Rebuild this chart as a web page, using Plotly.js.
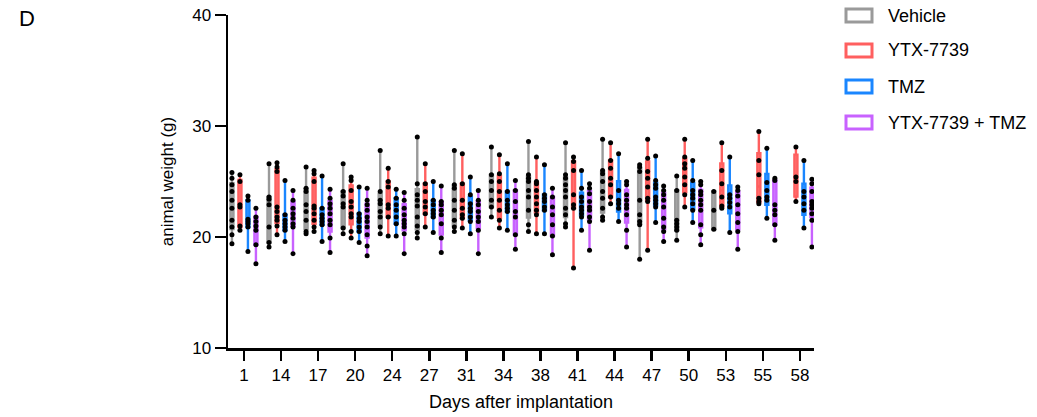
<!DOCTYPE html>
<html><head><meta charset="utf-8">
<script src="https://cdn.plot.ly/plotly-3.0.1.min.js"></script>
<style>html,body{margin:0;padding:0;background:#fff}#chart{width:1037px;height:417px}</style>
</head><body><div id="chart"></div>
<script>
const days = ['1','14','17','20','24','27','31','34','38','41','44','47','50','53','55','58'];

const vehicle = [
  [25.8, 25.3, 24.7, 24.1, 23.3, 22.6, 21.5, 20.9, 20.2, 19.4],
  [26.6, 23.6, 23.4, 22.9, 20.9, 19.5, 19.1],
  [26.3, 24.4, 24.1, 22.9, 22.3, 21.5, 20.5, 20.3],
  [26.6, 24.1, 23.7, 23.0, 22.7, 20.8, 20.3],
  [27.8, 24.1, 23.3, 23.0, 22.3, 21.8, 20.9, 20.3],
  [29.0, 24.8, 23.8, 23.3, 22.8, 21.8, 21.0, 20.4, 19.9],
  [27.8, 24.7, 24.4, 23.3, 22.4, 21.5, 20.9, 20.5],
  [28.1, 25.6, 25.0, 24.2, 23.3, 22.7, 21.8],
  [28.6, 25.6, 25.3, 25.0, 24.2, 23.6, 22.4, 21.1, 20.5],
  [28.5, 25.6, 25.3, 24.7, 24.2, 23.6, 22.6, 22.0, 21.2, 20.9],
  [28.8, 26.0, 25.7, 25.0, 24.1, 23.5, 22.6, 21.8, 21.5],
  [26.5, 26.3, 25.9, 23.3, 22.0, 21.4, 21.1, 18.0],
  [25.5, 24.2, 21.5, 21.2, 20.9, 20.6, 19.7],
  [24.1, 22.4, 20.7],
  [],
  []
];

const ytx7739 = [
  [25.6, 25.0, 22.9, 22.7, 21.0, 20.6],
  [26.7, 26.3, 25.9, 22.7, 22.3, 21.8, 21.5, 21.0, 20.2],
  [26.0, 25.7, 25.0, 22.8, 22.6, 22.1, 21.5, 20.9, 20.5],
  [25.4, 25.1, 24.2, 23.2, 22.7, 22.1, 21.8, 20.5, 19.9],
  [26.2, 25.0, 24.5, 22.9, 22.6, 21.8, 20.1],
  [26.6, 24.8, 24.1, 23.2, 22.7, 22.1, 20.9],
  [27.5, 24.8, 23.3, 22.6, 22.0, 21.7, 20.8],
  [27.4, 25.7, 25.0, 24.1, 23.3, 22.4, 21.5, 20.8],
  [27.2, 25.0, 24.8, 24.2, 23.6, 23.0, 22.4, 22.0, 20.3],
  [27.2, 26.8, 26.0, 23.8, 22.9, 22.6, 17.2],
  [28.5, 26.9, 26.2, 25.3, 24.7, 23.6, 23.0],
  [28.8, 27.1, 25.9, 25.3, 24.5, 23.5, 23.2, 18.8],
  [28.8, 27.2, 26.6, 26.2, 25.4, 24.7, 23.8, 22.7],
  [28.5, 26.0, 24.8, 23.6, 22.8, 22.6],
  [29.5, 26.9, 25.6, 23.5, 23.2, 23.0],
  [28.1, 25.4, 25.0, 23.2]
];

const tmz = [
  [23.7, 23.3, 21.6, 21.4, 21.2, 20.9, 18.7],
  [25.1, 22.0, 21.5, 21.2, 20.9, 20.6, 19.6],
  [25.5, 22.6, 22.0, 21.7, 21.4, 21.1, 19.6],
  [24.5, 22.1, 21.7, 21.4, 20.9, 20.5, 19.5],
  [24.3, 23.5, 22.9, 22.4, 21.8, 21.2, 20.1],
  [25.0, 23.3, 22.9, 22.4, 22.1, 21.8, 20.4],
  [25.4, 23.8, 23.0, 22.6, 22.3, 21.8, 21.4, 20.3],
  [26.6, 24.1, 23.3, 22.9, 22.6, 22.3, 20.6],
  [26.5, 23.8, 23.5, 23.2, 22.7, 22.4, 20.3],
  [26.0, 24.4, 23.6, 23.2, 22.7, 22.4, 22.1, 21.8, 20.6],
  [27.5, 24.2, 23.3, 23.0, 22.6, 21.4],
  [27.3, 25.1, 24.7, 24.4, 23.6, 23.3, 23.0, 22.7, 21.3],
  [26.9, 25.1, 24.2, 23.8, 23.5, 23.0, 22.4, 21.3],
  [27.2, 23.8, 23.5, 23.1, 22.7, 20.4],
  [28.0, 24.9, 24.2, 23.6, 23.3, 21.7],
  [26.9, 24.1, 23.6, 23.0, 22.4, 20.8]
];

const combo = [
  [22.6, 21.8, 21.4, 21.0, 20.6, 19.3, 17.6],
  [24.2, 23.3, 22.6, 22.1, 21.7, 21.2, 20.9, 18.5],
  [24.3, 23.5, 23.0, 22.6, 22.1, 21.5, 21.1, 19.9, 18.6],
  [24.4, 23.3, 22.9, 22.4, 21.8, 21.4, 20.9, 20.2, 19.2, 18.3],
  [24.0, 23.3, 22.6, 22.0, 21.5, 21.2, 20.9, 20.3, 18.5],
  [24.6, 23.2, 22.9, 22.4, 22.0, 21.2, 19.9, 18.6],
  [24.2, 23.3, 22.9, 22.3, 21.8, 21.4, 20.6, 18.5],
  [25.1, 24.2, 23.2, 22.3, 21.8, 20.2, 18.9],
  [24.4, 23.6, 22.7, 22.0, 21.1, 20.1, 18.4],
  [24.8, 24.4, 23.9, 23.2, 22.7, 22.4, 21.8, 21.4, 18.8],
  [25.0, 24.7, 23.8, 23.3, 22.9, 22.6, 22.0, 20.6, 19.1],
  [24.6, 24.2, 23.8, 23.3, 22.7, 21.7, 20.9, 20.5, 19.6],
  [25.0, 24.7, 24.1, 23.8, 23.3, 22.9, 22.4, 21.1, 20.2, 19.3],
  [24.5, 24.2, 23.7, 22.9, 22.1, 21.3, 20.5, 18.9],
  [25.3, 25.1, 22.9, 22.4, 22.0, 21.1, 19.7],
  [25.2, 24.8, 24.1, 23.2, 22.9, 22.6, 22.1, 21.5, 19.1]
];

const groupNames = ['Vehicle', 'YTX-7739', 'TMZ', 'YTX-7739 + TMZ'];
const yTicks = [10, 20, 30, 40];

const lineColors = ['#9a9a9a', '#ff5f5f', '#1a86ff', '#c862ff'];
const fillColors = ['#ababab', '#ff7c7c', '#4a9fff', '#d387ff'];
const series = [vehicle, ytx7739, tmz, combo];

// Prism-style percentile ((n+1)p rank)
function quantile(sorted, p) {
  const n = sorted.length;
  let pos = (n + 1) * p - 1;
  if (pos < 0) pos = 0;
  if (pos > n - 1) pos = n - 1;
  const lo = Math.floor(pos), hi = Math.ceil(pos);
  return sorted[lo] + (sorted[hi] - sorted[lo]) * (pos - lo);
}

const traces = [];
series.forEach((s, gi) => {
  const x = [], q1 = [], med = [], q3 = [], lf = [], uf = [];
  s.forEach((vals, di) => {
    if (!vals.length) return;
    const sv = vals.slice().sort((a, b) => a - b);
    x.push(days[di]);
    q1.push(quantile(sv, 0.25));
    med.push(quantile(sv, 0.5));
    q3.push(quantile(sv, 0.75));
    lf.push(sv[0]);
    uf.push(sv[sv.length - 1]);
  });
  traces.push({
    type: 'box', x: x, q1: q1, median: med, q3: q3, lowerfence: lf, upperfence: uf,
    offsetgroup: 'g' + gi, alignmentgroup: 'a', name: groupNames[gi],
    fillcolor: fillColors[gi], line: {color: lineColors[gi], width: 2.4},
    whiskerwidth: 0, showlegend: false, hoverinfo: 'skip'
  });
});
series.forEach((s, gi) => {
  const x = [], y = [];
  s.forEach((vals, di) => vals.forEach(v => { x.push(days[di]); y.push(v); }));
  traces.push({
    type: 'box', x: x, y: y, boxpoints: 'all', jitter: 0, pointpos: 0,
    offsetgroup: 'g' + gi, alignmentgroup: 'a',
    fillcolor: 'rgba(0,0,0,0)', line: {color: 'rgba(0,0,0,0)', width: 0},
    whiskerwidth: 0, marker: {color: '#000', size: 5},
    showlegend: false, name: groupNames[gi]
  });
});

// legend drawn as swatches + text, positioned in pixels converted to paper coords
const plotL = 228, plotR = 814, plotT = 15, plotB = 348;
const px2x = p => (p - plotL) / (plotR - plotL);
const px2y = p => (plotB - p) / (plotB - plotT);
const legendRows = [15.5, 50.5, 86.5, 122.5];
const shapes = [], annotations = [];
groupNames.forEach((n, gi) => {
  const cy = legendRows[gi];
  shapes.push({type: 'rect', xref: 'paper', yref: 'paper',
    x0: px2x(846), x1: px2x(872), y0: px2y(cy + 6.5), y1: px2y(cy - 6.5),
    line: {color: lineColors[gi], width: 3}, fillcolor: '#fff'});
  annotations.push({text: n, xref: 'paper', yref: 'paper', x: px2x(886), y: px2y(cy),
    xanchor: 'left', yanchor: 'middle', showarrow: false, font: {size: 18, color: '#000'}});
});
annotations.push({text: 'D', xref: 'paper', yref: 'paper', x: px2x(17), y: px2y(18),
  xanchor: 'left', yanchor: 'middle', showarrow: false, font: {size: 22, color: '#000'}});

const layout = {
  width: 1037, height: 417,
  margin: {l: 228, r: 223, t: 15, b: 69},
  paper_bgcolor: '#fff', plot_bgcolor: '#fff',
  boxmode: 'group', boxgap: 0.137, boxgroupgap: 0.62,
  showlegend: false,
  font: {family: '"Liberation Sans", Arial, sans-serif', color: '#000', size: 17},
  xaxis: {
    type: 'category', categoryorder: 'array', categoryarray: days,
    range: [-0.43, 15.38], showline: true, linecolor: '#000', linewidth: 2.5,
    ticks: 'outside', ticklen: 10, tickwidth: 2.5, tickcolor: '#000',
    showgrid: false, zeroline: false, tickfont: {size: 17},
    title: {text: 'Days after implantation', font: {size: 18}, standoff: 12}
  },
  yaxis: {
    range: [10, 40], tickvals: yTicks, showline: true, linecolor: '#000', linewidth: 2.5,
    ticks: 'outside', ticklen: 11, tickwidth: 2.5, tickcolor: '#000',
    showgrid: false, zeroline: false, tickfont: {size: 17},
    title: {text: 'animal weight (g)', font: {size: 17}, standoff: 14}
  },
  shapes: shapes,
  annotations: annotations
};

Plotly.newPlot('chart', traces, layout, {displayModeBar: false, staticPlot: true});
</script></body></html>
